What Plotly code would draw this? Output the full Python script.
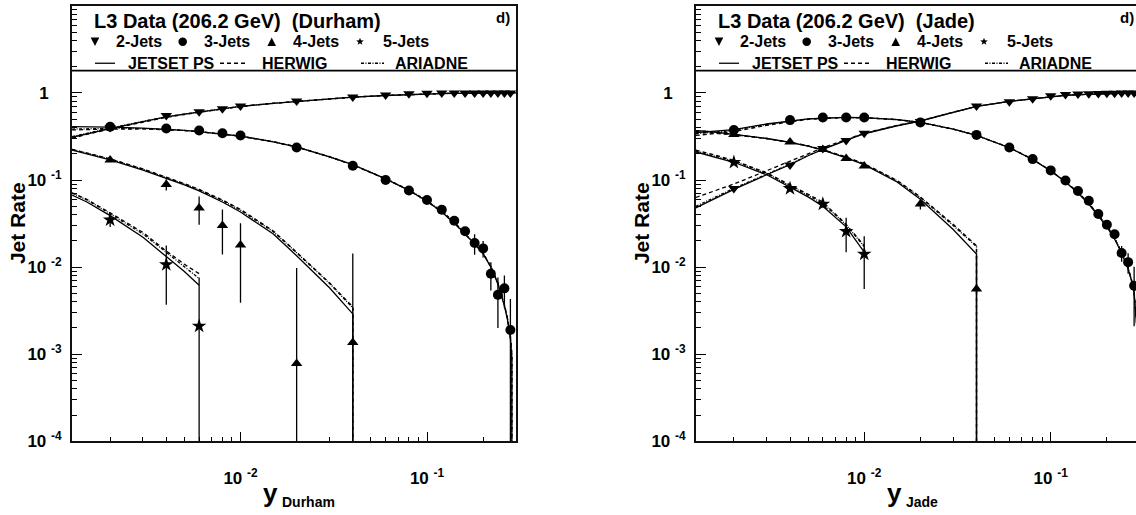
import math
import plotly.graph_objects as go

W, H = 1136, 515
FONT = "Liberation Sans"

# ------------------------------------------------------------------ data
YCUT = [0.002, 0.004, 0.006, 0.008, 0.01, 0.02, 0.04, 0.06, 0.08, 0.10,
        0.12, 0.14, 0.16, 0.18, 0.20, 0.22, 0.24, 0.26, 0.28]
YCUT4 = [0.002, 0.004, 0.006, 0.008, 0.01, 0.02, 0.04]
YCUT5_DUR = [0.002, 0.004, 0.006]
YCUT5_JADE = [0.002, 0.004, 0.006, 0.008, 0.01]

# Durham data
dur_r2 = [0.40, 0.55, 0.61, 0.66, 0.71, 0.81, 0.90, 0.95, 0.98, 0.99,
          1.0, 1.0, 1.0, 1.0, 1.0, 1.0, 1.0, 1.0, 1.0]
dur_r3 = [0.41, 0.39, 0.37, 0.345, 0.325, 0.236, 0.146, 0.100, 0.076, 0.059,
          0.0456, 0.034, 0.0258, 0.0189, 0.0164, 0.0084, 0.0048, 0.0057, 0.0019]
dur_r3_err = [0.004, 0.004, 0.004, 0.004, 0.004, 0.003, 0.003, 0.002, 0.002, 0.002,
              0.002, 0.002, 0.003, 0.005, 0.0035, 0.003, 0.0028, 0.0023, 0.0024]
dur_r4 = [0.17, 0.089, 0.0477, 0.030, 0.0179, 0.00078, 0.00136]
dur_r4_err = [0.005, 0.013, 0.017, 0.016, 0.014, 0.009, 0.013]
dur_r5 = [0.0349, 0.0107, 0.0021]
dur_r5_err = [0.006, 0.007, 0.0055]

# Jade data
jade_r2 = [0.080, 0.149, 0.23, 0.285, 0.345, 0.471, 0.708, 0.79, 0.856, 0.93,
           0.957, 0.97, 0.98, 0.985, 0.99, 0.995, 1.0, 1.0, 1.0]
jade_r3 = [0.376, 0.488, 0.523, 0.523, 0.523, 0.459, 0.33, 0.236, 0.174, 0.129,
           0.099, 0.0747, 0.0577, 0.0408, 0.0307, 0.0238, 0.0145, 0.0114, 0.0061]
jade_r3_err = [0.004, 0.004, 0.004, 0.004, 0.004, 0.004, 0.003, 0.003, 0.002, 0.002,
               0.002, 0.002, 0.002, 0.002, 0.002, 0.002, 0.003, 0.003, 0.004]
jade_r4 = [0.334, 0.273, 0.224, 0.177, 0.145, 0.0529, 0.0056]
jade_r4_err = [0.004, 0.004, 0.004, 0.004, 0.004, 0.007, 0.008]
jade_r5 = [0.16, 0.080, 0.053, 0.0258, 0.0141]
jade_r5_err = [0.004, 0.004, 0.005, 0.011, 0.0085]

# Monte Carlo curves
MC_X = [0.00125, 0.0015, 0.002, 0.003, 0.004, 0.005, 0.006, 0.008, 0.01, 0.015,
        0.02, 0.03, 0.04, 0.06, 0.08, 0.10, 0.12, 0.14, 0.16, 0.18,
        0.20, 0.22, 0.24, 0.26, 0.28, 0.30]

dur_jetset_2 = [0.31, 0.34, 0.39, 0.47, 0.53, 0.57, 0.60, 0.655, 0.70, 0.76,
                0.80, 0.86, 0.895, 0.935, 0.96, 0.975, 0.985, 0.99, 0.993, 0.995,
                0.997, 0.998, 0.999, 1.0, 1.0, 1.0]
dur_herwig_2 = [0.30, 0.335, 0.385, 0.465, 0.525, 0.566, 0.60, 0.655, 0.70, 0.76,
                0.80, 0.86, 0.895, 0.935, 0.96, 0.975, 0.985, 0.99, 0.993, 0.995,
                0.997, 0.998, 0.999, 1.0, 1.0, 1.0]
dur_ariadne_2 = [0.315, 0.345, 0.395, 0.472, 0.532, 0.572, 0.603, 0.657, 0.702, 0.762,
                 0.80, 0.86, 0.895, 0.935, 0.96, 0.975, 0.985, 0.99, 0.993, 0.995,
                 0.997, 0.998, 0.999, 1.0, 1.0, 1.0]

DUR_X3 = [0.00125, 0.0015, 0.002, 0.003, 0.004, 0.005, 0.006, 0.008, 0.01, 0.015,
          0.02, 0.03, 0.04, 0.06, 0.08, 0.10, 0.12, 0.14, 0.16, 0.18,
          0.20, 0.22, 0.24, 0.26, 0.27, 0.28, 0.285, 0.285]
dur_jetset_3 = [0.41, 0.41, 0.405, 0.395, 0.385, 0.372, 0.36, 0.34, 0.32, 0.275,
                0.24, 0.185, 0.15, 0.103, 0.076, 0.057, 0.043, 0.032, 0.024, 0.0185,
                0.0142, 0.0100, 0.0064, 0.0036, 0.0025, 0.0015, 0.0009, 1e-8]
dur_herwig_3 = [0.376, 0.38, 0.385, 0.386, 0.38, 0.37, 0.358, 0.338, 0.318, 0.274,
                0.239, 0.184, 0.149, 0.103, 0.076, 0.057, 0.043, 0.032, 0.024, 0.0185,
                0.0143, 0.0101, 0.0065, 0.0037, 0.0026, 0.0016, 0.0010, 1e-8]
dur_ariadne_3 = [0.385, 0.388, 0.392, 0.39, 0.383, 0.372, 0.36, 0.34, 0.32, 0.276,
                 0.241, 0.186, 0.150, 0.104, 0.077, 0.058, 0.044, 0.033, 0.0245, 0.0188,
                 0.0145, 0.0102, 0.0066, 0.0037, 0.0026, 0.0016, 0.0010, 1e-8]

DUR_X4 = [0.00125, 0.0015, 0.002, 0.003, 0.004, 0.005, 0.006, 0.008, 0.01, 0.015,
          0.02, 0.03, 0.04, 0.04]
dur_jetset_4 = [0.22, 0.20, 0.17, 0.13, 0.105, 0.088, 0.075, 0.056, 0.043, 0.024,
                0.0135, 0.0058, 0.0029, 1e-8]
dur_herwig_4 = [0.225, 0.205, 0.175, 0.134, 0.108, 0.091, 0.078, 0.059, 0.046, 0.026,
                0.0148, 0.0066, 0.0035, 1e-8]
dur_ariadne_4 = [0.225, 0.204, 0.174, 0.133, 0.107, 0.090, 0.077, 0.058, 0.045, 0.0255,
                 0.0146, 0.0065, 0.0034, 1e-8]

DUR_X5 = [0.00125, 0.0015, 0.002, 0.003, 0.004, 0.005, 0.006]
dur_jetset_5 = [0.067, 0.056, 0.039, 0.022, 0.0132, 0.0089, 0.0062]
dur_herwig_5 = [0.0715, 0.060, 0.042, 0.025, 0.0153, 0.0108, 0.0084]
dur_ariadne_5 = [0.071, 0.059, 0.041, 0.024, 0.0148, 0.0100, 0.0074]

jade_jetset_2 = [0.048, 0.058, 0.078, 0.115, 0.150, 0.19, 0.225, 0.285, 0.34, 0.42,
                 0.475, 0.60, 0.70, 0.80, 0.86, 0.91, 0.94, 0.955, 0.967, 0.977,
                 0.985, 0.99, 0.995, 0.998, 1.0, 1.0]
jade_herwig_2 = [0.063, 0.072, 0.090, 0.128, 0.163, 0.20, 0.235, 0.292, 0.345, 0.425,
                 0.48, 0.60, 0.70, 0.80, 0.86, 0.91, 0.94, 0.955, 0.967, 0.977,
                 0.985, 0.99, 0.995, 0.998, 1.0, 1.0]
jade_ariadne_2 = [0.050, 0.060, 0.080, 0.117, 0.152, 0.192, 0.227, 0.287, 0.342, 0.422,
                  0.477, 0.60, 0.70, 0.80, 0.86, 0.91, 0.94, 0.955, 0.967, 0.977,
                  0.985, 0.99, 0.995, 0.998, 1.0, 1.0]

JADE_X3 = [0.00125, 0.0015, 0.002, 0.003, 0.004, 0.005, 0.006, 0.008, 0.01, 0.015,
           0.02, 0.03, 0.04, 0.06, 0.08, 0.10, 0.12, 0.14, 0.16, 0.18,
           0.20, 0.22, 0.24, 0.26, 0.27, 0.28, 0.29, 0.295, 0.295]
jade_jetset_3 = [0.35, 0.36, 0.38, 0.44, 0.48, 0.505, 0.515, 0.525, 0.52, 0.495,
                 0.46, 0.385, 0.325, 0.235, 0.172, 0.127, 0.095, 0.071, 0.053, 0.039,
                 0.029, 0.021, 0.0145, 0.0095, 0.0072, 0.005, 0.0022, 0.0012, 1e-8]
jade_herwig_3 = [0.325, 0.337, 0.36, 0.425, 0.47, 0.498, 0.51, 0.522, 0.518, 0.494,
                 0.459, 0.384, 0.325, 0.236, 0.173, 0.128, 0.096, 0.072, 0.054, 0.040,
                 0.030, 0.0215, 0.0148, 0.0097, 0.0074, 0.0052, 0.0023, 0.0013, 1e-8]
jade_ariadne_3 = [0.34, 0.35, 0.372, 0.435, 0.476, 0.502, 0.513, 0.524, 0.519, 0.495,
                  0.46, 0.385, 0.326, 0.236, 0.173, 0.128, 0.096, 0.072, 0.054, 0.040,
                  0.030, 0.0215, 0.0148, 0.0097, 0.0074, 0.0052, 0.0023, 0.0013, 1e-8]

JADE_X4 = [0.00125, 0.0015, 0.002, 0.003, 0.004, 0.005, 0.006, 0.008, 0.01, 0.015,
           0.02, 0.03, 0.04, 0.04]
jade_jetset_4 = [0.37, 0.36, 0.335, 0.30, 0.27, 0.245, 0.22, 0.18, 0.15, 0.095,
                 0.060, 0.027, 0.0141, 1e-8]
jade_herwig_4 = [0.36, 0.35, 0.33, 0.30, 0.272, 0.247, 0.223, 0.184, 0.154, 0.099,
                 0.064, 0.031, 0.0176, 1e-8]
jade_ariadne_4 = [0.37, 0.36, 0.334, 0.30, 0.271, 0.246, 0.222, 0.182, 0.152, 0.098,
                  0.063, 0.030, 0.0172, 1e-8]

JADE_X5 = [0.00125, 0.0015, 0.002, 0.003, 0.004, 0.005, 0.006, 0.008, 0.01]
jade_jetset_5 = [0.21, 0.19, 0.16, 0.115, 0.083, 0.064, 0.050, 0.029, 0.0149]
jade_herwig_5 = [0.22, 0.20, 0.168, 0.121, 0.088, 0.068, 0.056, 0.031, 0.0176]
jade_ariadne_5 = [0.215, 0.195, 0.165, 0.119, 0.086, 0.066, 0.054, 0.0305, 0.0172]

# axis tick labels
Y_TICKVALS = [1e-4, 1e-3, 1e-2, 1e-1, 1]
Y_TICKTEXT = ["10\u00a0<sup>-4</sup>", "10\u00a0<sup>-3</sup>", "10\u00a0<sup>-2</sup>",
              "10\u00a0<sup>-1</sup>", "1\u2007\u2009"]
X_TICKVALS = [0.01, 0.1]
X_TICKTEXT = ["10\u00a0<sup>-2</sup>", "10\u00a0<sup>-1</sup>"]
PANEL_TITLES = ["L3 Data (206.2 GeV)\u00a0\u00a0(Durham)", "L3 Data (206.2 GeV)\u00a0\u00a0(Jade)"]
X_TITLE_SUB = ["Durham", "Jade"]

# ------------------------------------------------------------------ styles
DASH_HERWIG = "4px,3px"
DASH_ARIADNE = "3px,1.5px,1px,1.5px"
LW = 1.3

fig = go.Figure()


def add_mc(x, ys, xa, ya):
    for y, dash in zip(ys, ["solid", DASH_HERWIG, DASH_ARIADNE]):
        fig.add_trace(go.Scatter(x=x, y=y, mode="lines", xaxis=xa, yaxis=ya,
                                 line=dict(color="black", width=LW, dash=dash),
                                 showlegend=False, hoverinfo="skip"))


def add_data(x, y, err, symbol, size, xa, ya):
    fig.add_trace(go.Scatter(
        x=x, y=y, mode="markers", xaxis=xa, yaxis=ya, showlegend=False,
        marker=dict(symbol=symbol, size=size, color="black", line=dict(width=0)),
        error_y=dict(type="data", array=err, visible=err is not None,
                     width=0, thickness=1.3, color="black")))


# Durham panel
add_mc(MC_X, [dur_jetset_2, dur_herwig_2, dur_ariadne_2], "x", "y")
add_mc(DUR_X3, [dur_jetset_3, dur_herwig_3, dur_ariadne_3], "x", "y")
add_mc(DUR_X4, [dur_jetset_4, dur_herwig_4, dur_ariadne_4], "x", "y")
add_mc(DUR_X5, [dur_jetset_5, dur_herwig_5, dur_ariadne_5], "x", "y")
add_data(YCUT, dur_r2, None, "triangle-down", 10, "x", "y")
add_data(YCUT, dur_r3, dur_r3_err, "circle", 10, "x", "y")
add_data(YCUT4, dur_r4, dur_r4_err, "triangle-up", 10, "x", "y")
add_data(YCUT5_DUR, dur_r5, dur_r5_err, "star", 11, "x", "y")

# Jade panel
add_mc(MC_X, [jade_jetset_2, jade_herwig_2, jade_ariadne_2], "x2", "y2")
add_mc(JADE_X3, [jade_jetset_3, jade_herwig_3, jade_ariadne_3], "x2", "y2")
add_mc(JADE_X4, [jade_jetset_4, jade_herwig_4, jade_ariadne_4], "x2", "y2")
add_mc(JADE_X5, [jade_jetset_5, jade_herwig_5, jade_ariadne_5], "x2", "y2")
add_data(YCUT, jade_r2, None, "triangle-down", 10, "x2", "y2")
add_data(YCUT, jade_r3, jade_r3_err, "circle", 10, "x2", "y2")
add_data(YCUT4, jade_r4, jade_r4_err, "triangle-up", 10, "x2", "y2")
add_data(YCUT5_JADE, jade_r5, jade_r5_err, "star", 11, "x2", "y2")

# ------------------------------------------------------------------ axes
TICKFONT = dict(family=FONT, size=17, color="black", weight="bold")
y_minor = [k * 10.0 ** e for e in range(-4, 1) for k in range(2, 10)]
x_minor = [k * 10.0 ** e for e in (-3, -2, -1) for k in range(2, 10)]


def xaxis_cfg(dom, rng, anchor):
    return dict(domain=dom, type="log", range=rng, anchor=anchor,
                tickmode="array", tickvals=X_TICKVALS, ticktext=X_TICKTEXT,
                ticks="inside", ticklen=9, tickwidth=1.3, tickcolor="black",
                minor=dict(tickmode="array", tickvals=x_minor, ticks="inside",
                           ticklen=4, tickwidth=1.2, tickcolor="black"),
                showgrid=False, zeroline=False, showline=True, linewidth=2,
                linecolor="#111", mirror=True, tickfont=TICKFONT,
                ticklabelstandoff=20)


def yaxis_cfg(mirror, anchor):
    return dict(domain=[1 - 450 / H, 1 - 6 / H], type="log", range=[-4, 1], anchor=anchor,
                tickmode="array", tickvals=Y_TICKVALS, ticktext=Y_TICKTEXT,
                ticks="inside", ticklen=10, tickwidth=1.3, tickcolor="black",
                minor=dict(tickmode="array", tickvals=y_minor, ticks="inside",
                           ticklen=5, tickwidth=1.2, tickcolor="black"),
                showgrid=False, zeroline=False, showline=True, linewidth=2,
                linecolor="#111", mirror=mirror, tickfont=TICKFONT,
                ticklabelstandoff=5)


DEC = 186.5
fig.update_layout(
    width=W, height=H, margin=dict(l=0, r=0, t=0, b=0),
    paper_bgcolor="white", plot_bgcolor="white", showlegend=False,
    font=dict(family=FONT, color="black"),
    xaxis=xaxis_cfg([72 / W, 516 / W], [-2.9035, -2.9035 + 444 / DEC], "y"),
    yaxis=yaxis_cfg(True, "x"),
    xaxis2=xaxis_cfg([696 / W, 1.0], [-2.902, -2.902 + 440 / DEC], "y2"),
    yaxis2=yaxis_cfg(False, "x2"),
)

# ------------------------------------------------------------------ decorations


def P(x, y):
    return x / W, 1 - y / H


annotations = []
shapes = []


def text(t, x, y, size, xanchor="left", yanchor="middle", angle=0):
    if xanchor == "left":
        x -= 2  # default annotation padding
    px_, py_ = P(x, y)
    annotations.append(dict(text="<b>" + t + "</b>", x=px_, y=py_, xref="paper", yref="paper",
                            showarrow=False, xanchor=xanchor, yanchor=yanchor,
                            textangle=angle,
                            font=dict(family=FONT, size=size, color="black")))


def path(pts):
    s = "M " + " L ".join("%.5f,%.5f" % P(x, y) for x, y in pts) + " Z"
    shapes.append(dict(type="path", path=s, xref="paper", yref="paper",
                       fillcolor="black", line=dict(width=0)))


def line(x0, y0, x1, y1, dash="solid", width=1.3):
    a, b = P(x0, y0)
    c, d = P(x1, y1)
    shapes.append(dict(type="line", x0=a, y0=b, x1=c, y1=d, xref="paper", yref="paper",
                       line=dict(color="black", width=width, dash=dash)))


def star(cx, cy, r):
    pts = []
    for i in range(10):
        rr = r if i % 2 == 0 else r * 0.42
        ang = -math.pi / 2 + i * math.pi / 5
        pts.append((cx + rr * math.cos(ang), cy + rr * math.sin(ang)))
    path(pts)


for k, off in enumerate([0, 624]):
    # separator under legend block
    line(72 + off, 72, min(516 + off, W), 72, width=1.6)
    text(PANEL_TITLES[k], 94 + off, 21, 20)
    text("d)", 503 + off, 18, 15, xanchor="center")
    # markers row
    r = 4.3
    cy = 42.5
    path([(95 + off - r, cy - r), (95 + off + r, cy - r), (95 + off, cy + r)])
    a, b = P(182.7 + off - r, cy - r)
    c, d = P(182.7 + off + r, cy + r)
    shapes.append(dict(type="circle", x0=a, y0=b, x1=c, y1=d, xref="paper", yref="paper",
                       fillcolor="black", line=dict(width=0)))
    path([(271.7 + off - r, cy + r), (271.7 + off + r, cy + r), (271.7 + off, cy - r)])
    star(360 + off, cy, 4.0)
    text("2-Jets", 116 + off, cy, 16)
    text("3-Jets", 204 + off, cy, 16)
    text("4-Jets", 293 + off, cy, 16)
    text("5-Jets", 383 + off, cy, 16)
    # line-style row
    ly = 64.5
    line(95 + off, ly, 115 + off, ly)
    line(220 + off, ly, 247 + off, ly, dash=DASH_HERWIG)
    line(361 + off, ly, 384 + off, ly, dash=DASH_ARIADNE)
    text("JETSET PS", 127.5 + off, ly, 16)
    text("HERWIG", 261.5 + off, ly, 16)
    text("ARIADNE", 395 + off, ly, 16)
    # axis titles
    text("Jet Rate", 17.5 + off, 228, 21, xanchor="center", angle=-90)
    text("y", 270 + off, 503, 26, xanchor="center")
    text(X_TITLE_SUB[k], 282 + off, 512, 14)

fig.update_layout(annotations=annotations, shapes=shapes)
fig.write_html("out.html")
